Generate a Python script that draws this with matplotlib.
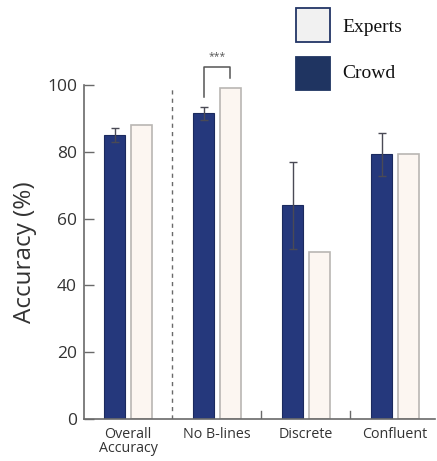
import matplotlib
matplotlib.use("Agg")
import matplotlib.pyplot as plt
from matplotlib.patches import Rectangle
import numpy as np

# ── data ────────────────────────────────────────────────────────────────
CATS = ["Overall\nAccuracy", "No B-lines", "Discrete", "Confluent"]
CROWD = [85.0, 91.5, 64.0, 79.2]
CROWD_ERR = [2.0, 2.0, 13.0, 6.3]
EXPERTS = [88.0, 99.2, 50.0, 79.2]

# ── style ───────────────────────────────────────────────────────────────
NAVY, NAVY_EDGE = "#25387c", "#1b2a5e"
CREAM, CREAM_EDGE = "#fcf6f1", "#b9b6b3"
AXC = "#6a6a6a"
TXT = "#333333"
SANS = ["Open Sans", "DejaVu Sans"]
SERIF = ["Liberation Serif", "DejaVu Serif"]

W, H = 437, 461
fig = plt.figure(figsize=(W / 100, H / 100), dpi=100)
# axes box in pixels: x 84..435, y(0)=419, y(100)=85
ax = fig.add_axes([84 / W, (H - 419) / H, (435 - 84) / W, (419 - 85) / H])

x = np.arange(len(CATS))
bw, off = 0.24, 0.15
ax.bar(x - off, CROWD, bw, color=NAVY, edgecolor=NAVY_EDGE, lw=0.8, zorder=2)
ax.bar(x + off, EXPERTS, bw, color=CREAM, edgecolor=CREAM_EDGE, lw=1.2, zorder=2)
ax.errorbar(x - off, CROWD, yerr=CROWD_ERR, fmt="none", ecolor="#4a4a55",
            elinewidth=1.0, capsize=3, capthick=1.0, zorder=3)

ax.set_xlim(-0.494, 3.45)
ax.set_ylim(0, 100)
ax.set_yticks([0, 20, 40, 60, 80, 100])
ax.set_xticks(x)
ax.set_xticklabels(CATS, family=SANS, fontsize=10.3, color=TXT, linespacing=0.9)
ax.tick_params(axis="x", length=0, pad=6)
ax.tick_params(axis="y", direction="in", length=7, width=1, color=AXC,
               labelsize=12.5, labelcolor=TXT, pad=5)
for lab in ax.get_yticklabels():
    lab.set_family(SANS)
for s in ("top", "right"):
    ax.spines[s].set_visible(False)
for s in ("left", "bottom"):
    ax.spines[s].set_color(AXC)
    ax.spines[s].set_linewidth(1.2)

ax.set_ylabel("Accuracy (%)", family=SANS, fontsize=17.5, color=TXT, labelpad=7)

# separator between overall and categories, small ticks between the rest
ax.axvline(0.5, ymin=0, ymax=0.99, color=AXC, lw=1.0, ls=(0, (3, 3)), zorder=1)
for xs in (1.5, 2.5):
    ax.plot([xs, xs], [0, 2.4], color=AXC, lw=1.0, zorder=1)

# significance bracket on No B-lines
xl, xr = 1 - off, 1 + off
ax.plot([xl, xl, xr, xr], [96.5, 105.5, 105.5, 102.2], color="#555555",
        lw=1.1, clip_on=False)
ax.text(1.0, 107.0, "***", ha="center", va="bottom", fontsize=7.5,
        color="#555555", family=SANS, clip_on=False)

# legend drawn as boxes in pixel space
def px_rect(x0, y0, x1, y1, **kw):
    fig.add_artist(Rectangle((x0 / W, 1 - y1 / H), (x1 - x0) / W, (y1 - y0) / H,
                             transform=fig.transFigure, **kw))

px_rect(296, 8, 330, 42, facecolor="#f1f1f1", edgecolor="#223566", lw=1.3)
px_rect(296, 57, 330, 90, facecolor="#1f3461", edgecolor="#1f3461", lw=1.3)
fig.text(342 / W, 1 - 27 / H, "Experts", family=SERIF, fontsize=14,
         color="#111111", va="center", ha="left")
fig.text(342 / W, 1 - 73 / H, "Crowd", family=SERIF, fontsize=14,
         color="#111111", va="center", ha="left")

fig.savefig("out.png", dpi=100, facecolor="white")
